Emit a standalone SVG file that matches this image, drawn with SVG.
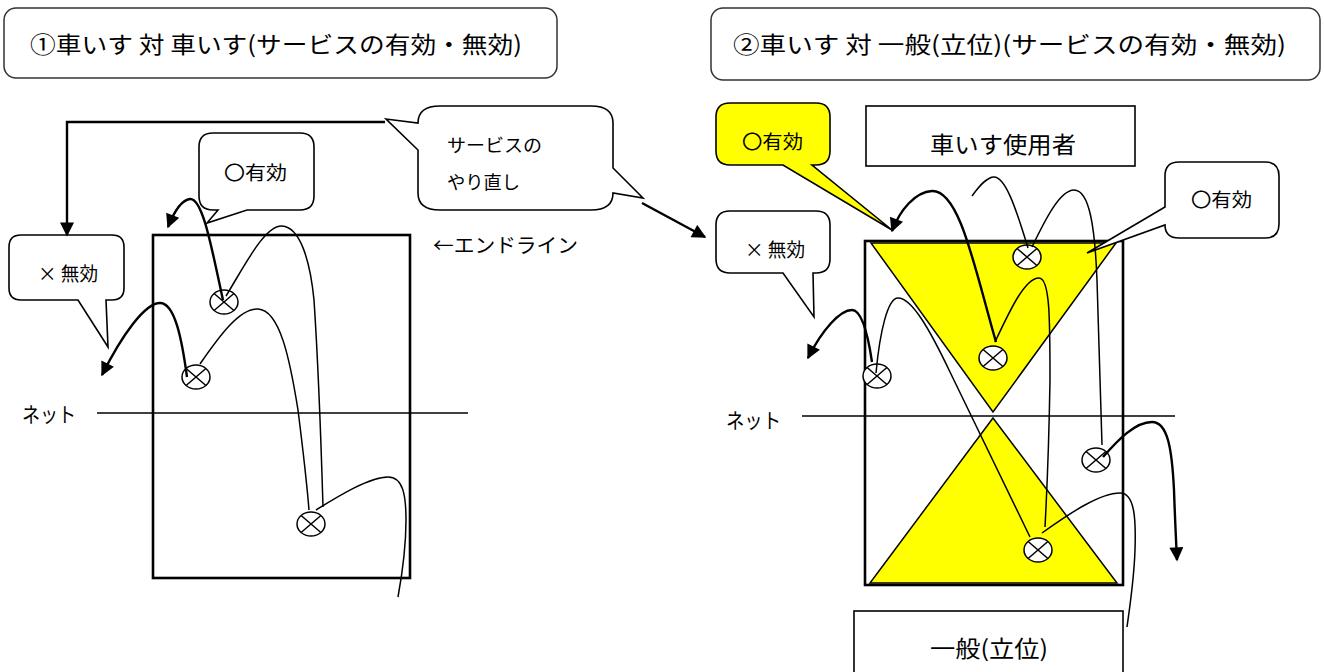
<svg xmlns="http://www.w3.org/2000/svg" width="1324" height="672" viewBox="0 0 1324 672">
<style>
text{font-family:"Noto Sans CJK JP","Noto Sans",sans-serif;fill:#000}
.box{fill:#fff;stroke:#000;stroke-width:1.6}
.title{fill:#fff;stroke:#333;stroke-width:1.5}
.court{fill:none;stroke:#000;stroke-width:2.6}
.net{stroke:#000;stroke-width:1.5}
.tri{fill:#ffff00;stroke:#000;stroke-width:1.5}
.thin{fill:none;stroke:#000;stroke-width:1.5}
.thick{fill:none;stroke:#000;stroke-width:2.4}
.lbl{font-size:19px}
</style>
<defs>
<marker id="ah" viewBox="0 0 10 10" refX="9" refY="5" markerWidth="15" markerHeight="14" markerUnits="userSpaceOnUse" orient="auto"><path d="M0,0 L10,5 L0,10 z" fill="#000"/></marker>
<g id="ox"><ellipse cx="0" cy="0" rx="14" ry="12" fill="#fff" stroke="#000" stroke-width="1.5"/><path d="M-9.9,-8.5 L9.9,8.5 M9.9,-8.5 L-9.9,8.5" stroke="#000" stroke-width="1.5"/></g>
</defs>

<g id="title1"><rect class="title" x="4" y="8" width="553" height="70" rx="12"/><text x="30" y="53" font-size="23" textLength="492" lengthAdjust="spacingAndGlyphs">①車いす 対 車いす(サービスの有効・無効)</text></g>
<g id="title2"><rect class="title" x="711" y="8" width="609" height="72" rx="12"/><text x="733" y="53" font-size="23" textLength="553" lengthAdjust="spacingAndGlyphs">②車いす 対 一般(立位)(サービスの有効・無効)</text></g>

<!-- left court -->
<g id="court1"><rect class="court" x="153" y="235" width="257" height="343"/></g>
<g id="net1"><line class="net" x1="97" y1="413" x2="468" y2="413"/><text x="22" y="422" font-size="21" textLength="54" lengthAdjust="spacingAndGlyphs">ネット</text></g>
<g id="endline"><text x="433" y="253" font-size="20" textLength="145" lengthAdjust="spacingAndGlyphs">←エンドライン</text></g>

<g id="callout-invalid1"><path class="box" d="M21,235 H112 Q124,235 124,247 V288 Q124,300 112,300 H106 L108,347 L78,300 H21 Q9,300 9,288 V247 Q9,235 21,235 Z"/><text x="38" y="281" class="lbl" textLength="60" lengthAdjust="spacingAndGlyphs">× 無効</text></g>
<g id="callout-valid1"><path class="box" d="M213,133 H300 Q314,133 314,147 V196 Q314,210 300,210 H247 L207,223 L218,210 H213 Q199,210 199,196 V147 Q199,133 213,133 Z"/><text x="224" y="180" class="lbl" textLength="63" lengthAdjust="spacingAndGlyphs">〇有効</text></g>
<g id="callout-redo"><path class="box" d="M440,106 H591 Q613,106 613,123 V168 L643,198 L613,193 Q613,210 591,210 H440 Q418,210 418,193 V150 L386,119 L418,123 Q418,106 440,106 Z"/><text x="447" y="152" font-size="18" textLength="95" lengthAdjust="spacingAndGlyphs">サービスの</text><text x="447" y="189" font-size="18" textLength="73" lengthAdjust="spacingAndGlyphs">やり直し</text></g>

<g id="balls1"><use href="#ox" x="224" y="302"/><use href="#ox" x="196" y="377"/><use href="#ox" x="311" y="524"/></g>

<!-- right court -->
<g id="court2"><polygon class="tri" points="871,243 1116,243 993,412"/><polygon class="tri" points="993,418 870,583 1117,583"/><rect class="court" x="865" y="241" width="258" height="344"/></g>
<g id="net2"><line class="net" x1="802" y1="416" x2="1175" y2="416"/><text x="726" y="428" font-size="21" textLength="55" lengthAdjust="spacingAndGlyphs">ネット</text></g>
<g id="wheelchair"><rect class="box" x="866" y="106" width="269" height="60"/><text x="930" y="153" font-size="23" textLength="146" lengthAdjust="spacingAndGlyphs">車いす使用者</text></g>
<g id="standing"><rect class="box" x="854" y="611" width="269" height="70"/><text x="930" y="657" font-size="23" textLength="118" lengthAdjust="spacingAndGlyphs">一般(立位)</text></g>

<g id="callout-valid2"><path d="M730,103 H816 Q830,103 830,117 V151 Q830,165 816,165 H812 L892,230 L783,165 H730 Q716,165 716,151 V117 Q716,103 730,103 Z" fill="#ffff00" stroke="#000" stroke-width="1.6"/><text x="742" y="149" class="lbl" textLength="61" lengthAdjust="spacingAndGlyphs">〇有効</text></g>
<g id="callout-invalid2"><path class="box" d="M730,211 H816 Q830,211 830,225 V259 Q830,273 816,273 H813 L814,317 L783,273 H730 Q716,273 716,259 V225 Q716,211 730,211 Z"/><text x="745" y="257" class="lbl" textLength="60" lengthAdjust="spacingAndGlyphs">× 無効</text></g>
<g id="callout-valid3"><path class="box" d="M1179,162 H1265 Q1279,162 1279,176 V224 Q1279,238 1265,238 H1179 Q1165,238 1165,225 L1087,253 L1165,207 V176 Q1165,162 1179,162 Z"/><text x="1191" y="207" class="lbl" textLength="61" lengthAdjust="spacingAndGlyphs">〇有効</text></g>

<g id="balls2"><use href="#ox" x="1027" y="257"/><use href="#ox" x="993" y="358"/><use href="#ox" x="877" y="376"/><use href="#ox" x="1096" y="460"/><use href="#ox" x="1038" y="550"/></g>

<g id="connectors">
<path class="thick" d="M385,122 H67 V235" marker-end="url(#ah)"/>
<path class="thick" d="M642,203 L705,237" marker-end="url(#ah)"/>
<!-- left court trajectories -->
<path class="thick" d="M223,300 C212,250 203,198 190,199 C181,200 174,212 168,227" marker-end="url(#ah)"/>
<path class="thin" d="M226,296 C245,265 265,225 282,226 C300,227 310,260 314,300 C318,360 321,440 323,507"/>
<path class="thick" d="M187,377 C182,340 175,303 160,303 C145,303 122,335 102,375" marker-end="url(#ah)"/>
<path class="thin" d="M200,364 C220,335 240,308 258,309 C280,310 290,360 298,410 C303,450 307,485 309,510"/>
<path class="thin" d="M316,510 C340,495 370,477 388,477 C403,477 406,495 406,520 C406,550 402,575 398,597"/>
<!-- right court trajectories -->
<path class="thick" d="M996,342 C975,270 960,190 932,191 C915,192 900,210 892,231" marker-end="url(#ah)"/>
<path class="thin" d="M995,342 C1010,310 1025,278 1039,278 C1050,278 1050,320 1050,380 C1049,440 1047,490 1045,527"/>
<path class="thin" d="M972,196 C980,185 987,177 994,177 C1005,177 1015,205 1028,248"/>
<path class="thin" d="M1032,247 C1045,220 1060,190 1074,190 C1090,190 1095,230 1097,280 C1099,340 1101,400 1102,445"/>
<path class="thick" d="M872,362 C868,335 862,310 852,310 C840,310 822,330 808,358" marker-end="url(#ah)"/>
<path class="thin" d="M876,373 C880,330 888,298 898,298 C912,298 930,330 950,372 L1030,537"/>
<path class="thick" d="M1103,457 C1118,440 1135,422 1152,422 C1168,422 1172,450 1174,490 C1175,520 1176,540 1177,560" marker-end="url(#ah)"/>
<path class="thin" d="M1042,533 C1070,513 1100,493 1120,493 C1135,493 1136,520 1135,550 C1134,580 1130,605 1127,627"/>
</g>
</svg>
